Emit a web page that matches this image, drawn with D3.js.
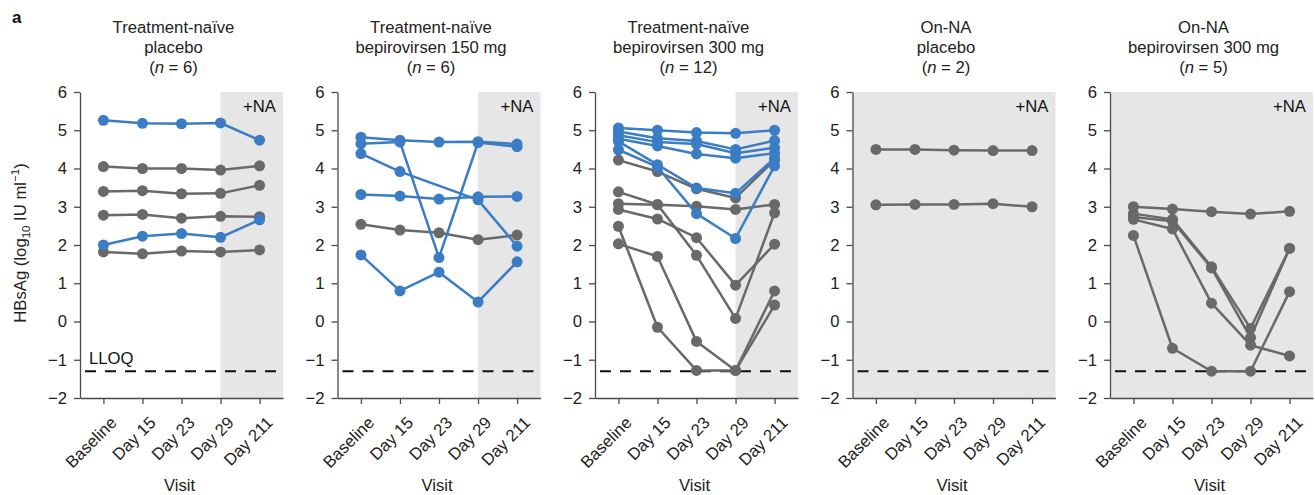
<!DOCTYPE html>
<html>
<head>
<meta charset="utf-8">
<script src="https://cdn.jsdelivr.net/npm/d3@7"></script>
<style>
  html, body { margin: 0; padding: 0; background: #fff; }
  svg { display: block; font-family: "Liberation Sans", Arial, Helvetica, sans-serif; }
</style>
</head>
<body>
<svg id="chart" width="1315" height="495"></svg>
<script>
// ---------------- data ----------------
const visits = ["Baseline", "Day 15", "Day 23", "Day 29", "Day 211"];
const yTicks = [-2, -1, 0, 1, 2, 3, 4, 5, 6];
const lloq = -1.3;

const titles = [
  ["Treatment-naïve", "placebo", "6"],
  ["Treatment-naïve", "bepirovirsen 150 mg", "6"],
  ["Treatment-naïve", "bepirovirsen 300 mg", "12"],
  ["On-NA", "placebo", "2"],
  ["On-NA", "bepirovirsen 300 mg", "5"]
];
// first visit index at which the shaded +NA period starts
const naStart = [3, 3, 3, 0, 0];

const naivePlaceboGray = [
  [4.05, 4.00, 4.00, 3.96, 4.07],
  [3.40, 3.42, 3.34, 3.35, 3.56],
  [2.78, 2.80, 2.70, 2.75, 2.74],
  [1.82, 1.77, 1.84, 1.82, 1.87]
];
const naivePlaceboBlue = [
  [5.26, 5.18, 5.17, 5.19, 4.74],
  [2.00, 2.23, 2.30, 2.20, 2.66]
];

const naive150Gray = [
  [2.54, 2.39, 2.32, 2.14, 2.26]
];
const naive150Blue = [
  [4.82, 4.74, 4.69, 4.70, 4.64],
  [4.65, 4.69, 1.67, 4.68, 4.57],
  [4.39, 3.92, null, 3.18, 1.97],
  [3.32, 3.28, 3.20, 3.26, 3.27],
  [1.74, 0.80, 1.29, 0.51, 1.56]
];

const naive300Gray = [
  [4.22, 3.92, 3.47, 3.23, 4.22],
  [3.39, 3.06, 1.73, 0.08, 2.84],
  [3.08, 3.05, 3.01, 2.93, 3.06],
  [2.93, 2.68, 2.19, 0.95, 2.02],
  [2.49, -0.15, -1.28, -1.28, 0.80],
  [2.03, 1.70, -0.52, -1.28, 0.43]
];
const naive300Blue = [
  [5.06, 5.00, 4.94, 4.92, 5.00],
  [4.97, 4.79, 4.72, 4.50, 4.73],
  [4.87, 4.69, 4.64, 4.40, 4.54],
  [4.78, 4.59, 4.38, 4.27, 4.40],
  [4.71, 4.10, 3.49, 3.35, 4.27],
  [4.49, 4.04, 2.82, 2.17, 4.07]
];

const onNaPlaceboGray = [
  [4.50, 4.50, 4.48, 4.47, 4.47],
  [3.05, 3.06, 3.06, 3.08, 3.00]
];
const onNaPlaceboBlue = [];

const onNa300Gray = [
  [3.00, 2.94, 2.87, 2.81, 2.88],
  [2.82, 2.67, 1.43, -0.18, 1.91],
  [2.73, 2.62, 1.40, -0.42, 1.91],
  [2.67, 2.42, 0.48, -0.62, -0.90],
  [2.25, -0.70, -1.30, -1.30, 0.78]
];
const onNa300Blue = [];

const panelGray = [naivePlaceboGray, naive150Gray, naive300Gray, onNaPlaceboGray, onNa300Gray];
const panelBlue = [naivePlaceboBlue, naive150Blue, naive300Blue, onNaPlaceboBlue, onNa300Blue];

// ---------------- drawing ----------------
const svg = d3.select("#chart");
const BLUE = "#3b7dc4";
const GRAY = "#696969";
const SHADE = "#e6e6e6";
const AXIS = "#4a4a4a";
const FS = 16.7;

const plotTop = 92, plotBottom = 398, pw = 203, stride = 257.5, left0 = 80;
const y = d3.scaleLinear().domain([-2, 6]).range([plotBottom, plotTop]);

svg.append("text").attr("x", 12).attr("y", 23)
  .attr("font-size", 17).attr("font-weight", "bold").attr("fill", "#111").text("a");

titles.forEach((t, i) => {
  const x0 = left0 + stride * i;
  const x = d3.scalePoint().domain(visits).range([x0, x0 + pw]).padding(0.6);
  const g = svg.append("g");

  // shaded +NA region
  const sx = naStart[i] === 0 ? x0 : x(visits[naStart[i]]);
  g.append("rect").attr("x", sx).attr("y", plotTop)
    .attr("width", x0 + pw - sx).attr("height", plotBottom - plotTop).attr("fill", SHADE);
  g.append("text").attr("x", x0 + pw - 7).attr("y", 112)
    .attr("text-anchor", "end").attr("font-size", FS).attr("fill", "#111").text("+NA");

  // LLOQ
  g.append("line").attr("x1", x0).attr("x2", x0 + pw)
    .attr("y1", y(lloq)).attr("y2", y(lloq))
    .attr("stroke", "#111").attr("stroke-width", 2.2)
    .attr("stroke-dasharray", "11,9").attr("stroke-dashoffset", -5);
  if (i === 0) {
    g.append("text").attr("x", x0 + 9).attr("y", y(lloq) - 7)
      .attr("font-size", FS).attr("fill", "#111").text("LLOQ");
  }

  // title
  const cx = x0 + pw / 2 - 8;
  const tt = g.append("text").attr("text-anchor", "middle").attr("font-size", FS).attr("fill", "#222");
  tt.append("tspan").attr("x", cx).attr("y", 33).text(t[0]);
  tt.append("tspan").attr("x", cx).attr("y", 53).text(t[1]);
  tt.append("tspan").attr("x", cx).attr("y", 72.5).text("(");
  tt.append("tspan").attr("font-style", "italic").text("n");
  tt.append("tspan").text(" = " + t[2] + ")");

  // axes
  const ya = g.append("g").attr("transform", `translate(${x0},0)`)
    .call(d3.axisLeft(y).tickValues(yTicks).tickSize(6).tickSizeOuter(0).tickPadding(7));
  const xa = g.append("g").attr("transform", `translate(0,${plotBottom})`)
    .call(d3.axisBottom(x).tickSize(6).tickSizeOuter(0).tickPadding(5));
  [ya, xa].forEach(a => {
    a.select(".domain").attr("stroke", AXIS).attr("stroke-width", 1.3);
    a.selectAll(".tick line").attr("stroke", AXIS).attr("stroke-width", 1.3);
    a.selectAll("text").attr("font-size", FS).attr("fill", "#222")
      .attr("font-family", "'Liberation Sans', Arial, sans-serif");
  });
  xa.selectAll(".tick text")
    .attr("text-anchor", "end")
    .attr("dy", "0")
    .attr("transform", "translate(6,18) rotate(-45)");

  g.append("text").attr("x", cx + 6).attr("y", 491)
    .attr("text-anchor", "middle").attr("font-size", FS).attr("fill", "#222").text("Visit");

  // series
  const line = d3.line()
    .defined(d => d.v !== null)
    .x(d => x(d.k)).y(d => y(d.v));
  const draw = (series, color) => {
    series.forEach(s => {
      const pts = s.map((v, j) => ({ k: visits[j], v })).filter(d => d.v !== null);
      g.append("path").datum(pts).attr("d", line)
        .attr("fill", "none").attr("stroke", color).attr("stroke-width", 2.5)
        .attr("stroke-linejoin", "round");
      g.selectAll(null).data(pts).enter().append("circle")
        .attr("cx", d => x(d.k)).attr("cy", d => y(d.v)).attr("r", 5.5)
        .attr("fill", color);
    });
  };
  draw(panelGray[i], GRAY);
  draw(panelBlue[i], BLUE);
});

// y-axis title
const yt = svg.append("text")
  .attr("transform", `translate(26,${(plotTop + plotBottom) / 2 - 2}) rotate(-90)`)
  .attr("text-anchor", "middle").attr("font-size", FS).attr("fill", "#222");
yt.append("tspan").text("HBsAg (log");
yt.append("tspan").attr("font-size", 11.5).attr("dy", 4).text("10");
yt.append("tspan").attr("dy", -4).text(" IU ml");
yt.append("tspan").attr("font-size", 11.5).attr("dy", -7).text("−1");
yt.append("tspan").attr("dy", 7).text(")");
</script>
</body>
</html>
